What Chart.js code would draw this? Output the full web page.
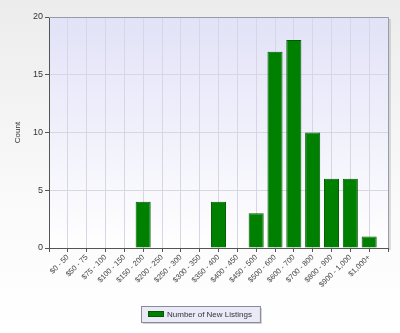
<!DOCTYPE html>
<html>
<head>
<meta charset="utf-8">
<script src="https://cdn.jsdelivr.net/npm/chart.js@4/dist/chart.umd.min.js"></script>
<style>
  html, body { margin: 0; padding: 0; }
  body { width: 400px; height: 333px; background: linear-gradient(#ececec, #fafafa 60%, #ffffff); }
  #wrap { position: relative; width: 400px; height: 333px; }
</style>
</head>
<body>
<div id="wrap"><canvas id="c" width="400" height="333"></canvas></div>
<script>
// price ranges and listing counts
const CATEGORIES = ["$0 - 50", "$50 - 75", "$75 - 100", "$100 - 150", "$150 - 200", "$200 - 250",
    "$250 - 300", "$300 - 350", "$350 - 400", "$400 - 450", "$450 - 500", "$500 - 600",
    "$600 - 700", "$700 - 800", "$800 - 900", "$900 - 1,000", "$1,000+"];
const NEW_LISTINGS = [0, 0, 0, 0, 4, 0, 0, 0, 4, 0, 3, 17, 18, 10, 6, 6, 1];
const Y_TICKS = [0, 5, 10, 15, 20];
const SERIES_NAME = "Number of New Listings";

// the axis leaves one empty slot at each end
const labels = ["", ...CATEGORIES, ""];
const values = [null, ...NEW_LISTINGS.map(v => v || null), null];

const plotDecor = {
    id: "plotDecor",
    beforeDatasetsDraw(chart) {
        const { ctx, chartArea: a } = chart;
        ctx.save();
        // right/top frame with a small shadow
        ctx.fillStyle = "rgba(0,0,0,0.12)";
        ctx.fillRect(a.right + 1, a.top + 2, 2, a.bottom - a.top);
        ctx.strokeStyle = "#9a9aa8";
        ctx.lineWidth = 1;
        ctx.beginPath();
        ctx.moveTo(a.left, a.top + 0.5);
        ctx.lineTo(a.right + 0.5, a.top + 0.5);
        ctx.lineTo(a.right + 0.5, a.bottom);
        ctx.stroke();
        ctx.restore();
    },
    beforeDraw(chart) {
        const { ctx, chartArea: a } = chart;
        const g = ctx.createLinearGradient(0, a.top, 0, a.bottom);
        g.addColorStop(0, "#e2e2f8");
        g.addColorStop(1, "#ffffff");
        ctx.save();
        ctx.fillStyle = g;
        ctx.fillRect(a.left, a.top, a.right - a.left, a.bottom - a.top);
        ctx.restore();
    },
    afterDraw(chart) {
        const { ctx } = chart;
        const ds = chart.data.datasets[0];
        ctx.save();
        ctx.font = "8px 'Liberation Sans', Arial, sans-serif";
        const tw = ctx.measureText(ds.label).width;
        const w = 7 + 16 + 3 + tw + 8, h = 16;
        const x = Math.round(200 - w / 2), y = 306;
        ctx.fillStyle = "rgba(0,0,0,0.18)";
        ctx.fillRect(x + 2, y + 2, w, h);
        ctx.fillStyle = "#e9e9f8";
        ctx.fillRect(x, y, w, h);
        ctx.strokeStyle = "#8a8a9a";
        ctx.strokeRect(x + 0.5, y + 0.5, w, h);
        ctx.fillStyle = ds.backgroundColor;
        ctx.fillRect(x + 7, y + 5, 16, 6);
        ctx.strokeStyle = ds.borderColor;
        ctx.strokeRect(x + 7.5, y + 5.5, 15, 5);
        ctx.fillStyle = "#333";
        ctx.textBaseline = "middle";
        ctx.fillText(ds.label, x + 26, y + h / 2 + 1);
        ctx.restore();
    }
};

new Chart(document.getElementById("c"), {
    type: "bar",
    data: {
        labels,
        datasets: [{
            label: SERIES_NAME,
            data: values,
            backgroundColor: "#008000",
            borderColor: "#005a00",
            borderWidth: 1,
            barPercentage: 0.8,
            categoryPercentage: 1
        }]
    },
    options: {
        responsive: false,
        animation: false,
        devicePixelRatio: 1,
        layout: { padding: { top: 17, right: 12, left: 13, bottom: 35 } },
        plugins: { legend: { display: false }, tooltip: { enabled: false } },
        scales: {
            x: {
                offset: false,
                grid: { offset: false, color: "#d6d6e4", tickLength: 4, tickColor: "#555" },
                border: { color: "#555", width: 1 },
                ticks: {
                    autoSkip: false, maxRotation: 45, minRotation: 45, padding: 1,
                    color: "#444", font: { family: "'Liberation Sans', Arial, sans-serif", size: 7.5 }
                },
                afterFit: s => { s.height = 50; }
            },
            y: {
                min: 0, max: 20,
                afterBuildTicks: s => { s.ticks = Y_TICKS.map(v => ({ value: v })); },
                grid: { color: "#d6d6e4", tickLength: 4, tickColor: "#555" },
                border: { color: "#555", width: 1 },
                ticks: { padding: 2, color: "#333", font: { family: "'Liberation Sans', Arial, sans-serif", size: 9 } },
                title: { display: true, text: "Count", color: "#333", padding: 0,
                    font: { family: "'Liberation Sans', Arial, sans-serif", size: 8 } },
                afterFit: s => { s.width = 36; }
            }
        }
    },
    plugins: [plotDecor]
});
</script>
</body>
</html>
